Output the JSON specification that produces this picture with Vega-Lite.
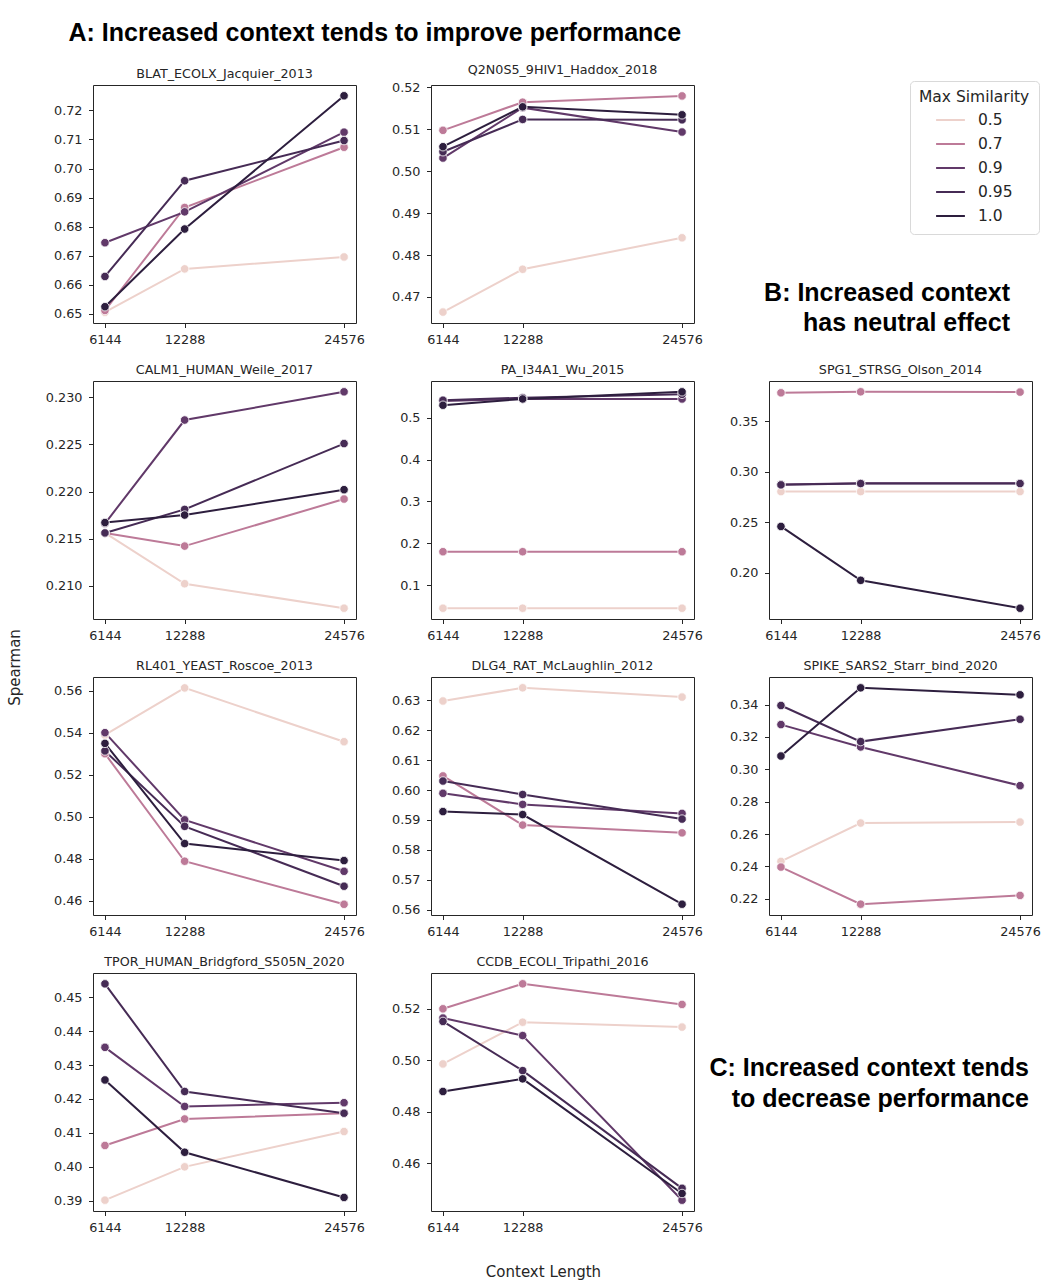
{
"$schema": "https://vega.github.io/schema/vega-lite/v6.json",
"padding": {"left": 6, "top": 20, "right": 5, "bottom": 5},
"title": {"text": "A: Increased context tends to improve performance", "anchor": "start", "dx": 62, "offset": 18, "font": "Liberation Sans", "fontSize": 25, "fontWeight": "bold", "color": "black"},
"datasets": {"d": [
{"panel":"BLAT","sim":"0.5","ctx":6144,"v":0.6506},{"panel":"BLAT","sim":"0.5","ctx":12288,"v":0.6655},{"panel":"BLAT","sim":"0.5","ctx":24576,"v":0.6696},
{"panel":"BLAT","sim":"0.7","ctx":6144,"v":0.6512},{"panel":"BLAT","sim":"0.7","ctx":12288,"v":0.6866},{"panel":"BLAT","sim":"0.7","ctx":24576,"v":0.7073},
{"panel":"BLAT","sim":"0.9","ctx":6144,"v":0.6745},{"panel":"BLAT","sim":"0.9","ctx":12288,"v":0.6851},{"panel":"BLAT","sim":"0.9","ctx":24576,"v":0.7125},
{"panel":"BLAT","sim":"0.95","ctx":6144,"v":0.6629},{"panel":"BLAT","sim":"0.95","ctx":12288,"v":0.6958},{"panel":"BLAT","sim":"0.95","ctx":24576,"v":0.7096},
{"panel":"BLAT","sim":"1.0","ctx":6144,"v":0.6525},{"panel":"BLAT","sim":"1.0","ctx":12288,"v":0.6792},{"panel":"BLAT","sim":"1.0","ctx":24576,"v":0.7250},
{"panel":"Q2N0S5","sim":"0.5","ctx":6144,"v":0.4664},{"panel":"Q2N0S5","sim":"0.5","ctx":12288,"v":0.4766},{"panel":"Q2N0S5","sim":"0.5","ctx":24576,"v":0.4841},
{"panel":"Q2N0S5","sim":"0.7","ctx":6144,"v":0.5097},{"panel":"Q2N0S5","sim":"0.7","ctx":12288,"v":0.5164},{"panel":"Q2N0S5","sim":"0.7","ctx":24576,"v":0.5179},
{"panel":"Q2N0S5","sim":"0.9","ctx":6144,"v":0.5031},{"panel":"Q2N0S5","sim":"0.9","ctx":12288,"v":0.5151},{"panel":"Q2N0S5","sim":"0.9","ctx":24576,"v":0.5093},
{"panel":"Q2N0S5","sim":"0.95","ctx":6144,"v":0.5046},{"panel":"Q2N0S5","sim":"0.95","ctx":12288,"v":0.5123},{"panel":"Q2N0S5","sim":"0.95","ctx":24576,"v":0.5122},
{"panel":"Q2N0S5","sim":"1.0","ctx":6144,"v":0.5058},{"panel":"Q2N0S5","sim":"1.0","ctx":12288,"v":0.5153},{"panel":"Q2N0S5","sim":"1.0","ctx":24576,"v":0.5134},
{"panel":"CALM1","sim":"0.5","ctx":6144,"v":0.2156},{"panel":"CALM1","sim":"0.5","ctx":12288,"v":0.2102},{"panel":"CALM1","sim":"0.5","ctx":24576,"v":0.2076},
{"panel":"CALM1","sim":"0.7","ctx":6144,"v":0.2156},{"panel":"CALM1","sim":"0.7","ctx":12288,"v":0.2142},{"panel":"CALM1","sim":"0.7","ctx":24576,"v":0.2192},
{"panel":"CALM1","sim":"0.9","ctx":6144,"v":0.2166},{"panel":"CALM1","sim":"0.9","ctx":12288,"v":0.2276},{"panel":"CALM1","sim":"0.9","ctx":24576,"v":0.2306},
{"panel":"CALM1","sim":"0.95","ctx":6144,"v":0.2156},{"panel":"CALM1","sim":"0.95","ctx":12288,"v":0.2181},{"panel":"CALM1","sim":"0.95","ctx":24576,"v":0.2251},
{"panel":"CALM1","sim":"1.0","ctx":6144,"v":0.2167},{"panel":"CALM1","sim":"1.0","ctx":12288,"v":0.2175},{"panel":"CALM1","sim":"1.0","ctx":24576,"v":0.2202},
{"panel":"PA","sim":"0.5","ctx":6144,"v":0.045},{"panel":"PA","sim":"0.5","ctx":12288,"v":0.045},{"panel":"PA","sim":"0.5","ctx":24576,"v":0.045},
{"panel":"PA","sim":"0.7","ctx":6144,"v":0.180},{"panel":"PA","sim":"0.7","ctx":12288,"v":0.180},{"panel":"PA","sim":"0.7","ctx":24576,"v":0.180},
{"panel":"PA","sim":"0.9","ctx":6144,"v":0.540},{"panel":"PA","sim":"0.9","ctx":12288,"v":0.545},{"panel":"PA","sim":"0.9","ctx":24576,"v":0.545},
{"panel":"PA","sim":"0.95","ctx":6144,"v":0.542},{"panel":"PA","sim":"0.95","ctx":12288,"v":0.548},{"panel":"PA","sim":"0.95","ctx":24576,"v":0.556},
{"panel":"PA","sim":"1.0","ctx":6144,"v":0.530},{"panel":"PA","sim":"1.0","ctx":12288,"v":0.545},{"panel":"PA","sim":"1.0","ctx":24576,"v":0.562},
{"panel":"SPG1","sim":"0.5","ctx":6144,"v":0.2803},{"panel":"SPG1","sim":"0.5","ctx":12288,"v":0.2803},{"panel":"SPG1","sim":"0.5","ctx":24576,"v":0.2803},
{"panel":"SPG1","sim":"0.7","ctx":6144,"v":0.3782},{"panel":"SPG1","sim":"0.7","ctx":12288,"v":0.3792},{"panel":"SPG1","sim":"0.7","ctx":24576,"v":0.3789},
{"panel":"SPG1","sim":"0.9","ctx":6144,"v":0.2873},{"panel":"SPG1","sim":"0.9","ctx":12288,"v":0.2886},{"panel":"SPG1","sim":"0.9","ctx":24576,"v":0.2886},
{"panel":"SPG1","sim":"0.95","ctx":6144,"v":0.2870},{"panel":"SPG1","sim":"0.95","ctx":12288,"v":0.2883},{"panel":"SPG1","sim":"0.95","ctx":24576,"v":0.2883},
{"panel":"SPG1","sim":"1.0","ctx":6144,"v":0.2458},{"panel":"SPG1","sim":"1.0","ctx":12288,"v":0.1924},{"panel":"SPG1","sim":"1.0","ctx":24576,"v":0.1648},
{"panel":"RL401","sim":"0.5","ctx":6144,"v":0.5390},{"panel":"RL401","sim":"0.5","ctx":12288,"v":0.5614},{"panel":"RL401","sim":"0.5","ctx":24576,"v":0.5358},
{"panel":"RL401","sim":"0.7","ctx":6144,"v":0.5301},{"panel":"RL401","sim":"0.7","ctx":12288,"v":0.4789},{"panel":"RL401","sim":"0.7","ctx":24576,"v":0.4584},
{"panel":"RL401","sim":"0.9","ctx":6144,"v":0.5401},{"panel":"RL401","sim":"0.9","ctx":12288,"v":0.4986},{"panel":"RL401","sim":"0.9","ctx":24576,"v":0.4741},
{"panel":"RL401","sim":"0.95","ctx":6144,"v":0.5314},{"panel":"RL401","sim":"0.95","ctx":12288,"v":0.4955},{"panel":"RL401","sim":"0.95","ctx":24576,"v":0.4670},
{"panel":"RL401","sim":"1.0","ctx":6144,"v":0.5350},{"panel":"RL401","sim":"1.0","ctx":12288,"v":0.4873},{"panel":"RL401","sim":"1.0","ctx":24576,"v":0.4792},
{"panel":"DLG4","sim":"0.5","ctx":6144,"v":0.6297},{"panel":"DLG4","sim":"0.5","ctx":12288,"v":0.6341},{"panel":"DLG4","sim":"0.5","ctx":24576,"v":0.6310},
{"panel":"DLG4","sim":"0.7","ctx":6144,"v":0.6047},{"panel":"DLG4","sim":"0.7","ctx":12288,"v":0.5883},{"panel":"DLG4","sim":"0.7","ctx":24576,"v":0.5857},
{"panel":"DLG4","sim":"0.9","ctx":6144,"v":0.5989},{"panel":"DLG4","sim":"0.9","ctx":12288,"v":0.5952},{"panel":"DLG4","sim":"0.9","ctx":24576,"v":0.5922},
{"panel":"DLG4","sim":"0.95","ctx":6144,"v":0.6030},{"panel":"DLG4","sim":"0.95","ctx":12288,"v":0.5985},{"panel":"DLG4","sim":"0.95","ctx":24576,"v":0.5903},
{"panel":"DLG4","sim":"1.0","ctx":6144,"v":0.5928},{"panel":"DLG4","sim":"1.0","ctx":12288,"v":0.5918},{"panel":"DLG4","sim":"1.0","ctx":24576,"v":0.5619},
{"panel":"SPIKE","sim":"0.5","ctx":6144,"v":0.2431},{"panel":"SPIKE","sim":"0.5","ctx":12288,"v":0.2668},{"panel":"SPIKE","sim":"0.5","ctx":24576,"v":0.2674},
{"panel":"SPIKE","sim":"0.7","ctx":6144,"v":0.2396},{"panel":"SPIKE","sim":"0.7","ctx":12288,"v":0.2167},{"panel":"SPIKE","sim":"0.7","ctx":24576,"v":0.2221},
{"panel":"SPIKE","sim":"0.9","ctx":6144,"v":0.3276},{"panel":"SPIKE","sim":"0.9","ctx":12288,"v":0.3138},{"panel":"SPIKE","sim":"0.9","ctx":24576,"v":0.2899},
{"panel":"SPIKE","sim":"0.95","ctx":6144,"v":0.3394},{"panel":"SPIKE","sim":"0.95","ctx":12288,"v":0.3171},{"panel":"SPIKE","sim":"0.95","ctx":24576,"v":0.3309},
{"panel":"SPIKE","sim":"1.0","ctx":6144,"v":0.3082},{"panel":"SPIKE","sim":"1.0","ctx":12288,"v":0.3503},{"panel":"SPIKE","sim":"1.0","ctx":24576,"v":0.3460},
{"panel":"TPOR","sim":"0.5","ctx":6144,"v":0.3902},{"panel":"TPOR","sim":"0.5","ctx":12288,"v":0.4000},{"panel":"TPOR","sim":"0.5","ctx":24576,"v":0.4104},
{"panel":"TPOR","sim":"0.7","ctx":6144,"v":0.4063},{"panel":"TPOR","sim":"0.7","ctx":12288,"v":0.4141},{"panel":"TPOR","sim":"0.7","ctx":24576,"v":0.4158},
{"panel":"TPOR","sim":"0.9","ctx":6144,"v":0.4352},{"panel":"TPOR","sim":"0.9","ctx":12288,"v":0.4178},{"panel":"TPOR","sim":"0.9","ctx":24576,"v":0.4189},
{"panel":"TPOR","sim":"0.95","ctx":6144,"v":0.4539},{"panel":"TPOR","sim":"0.95","ctx":12288,"v":0.4222},{"panel":"TPOR","sim":"0.95","ctx":24576,"v":0.4158},
{"panel":"TPOR","sim":"1.0","ctx":6144,"v":0.4256},{"panel":"TPOR","sim":"1.0","ctx":12288,"v":0.4043},{"panel":"TPOR","sim":"1.0","ctx":24576,"v":0.3910},
{"panel":"CCDB","sim":"0.5","ctx":6144,"v":0.4986},{"panel":"CCDB","sim":"0.5","ctx":12288,"v":0.5148},{"panel":"CCDB","sim":"0.5","ctx":24576,"v":0.5129},
{"panel":"CCDB","sim":"0.7","ctx":6144,"v":0.5200},{"panel":"CCDB","sim":"0.7","ctx":12288,"v":0.5297},{"panel":"CCDB","sim":"0.7","ctx":24576,"v":0.5217},
{"panel":"CCDB","sim":"0.9","ctx":6144,"v":0.5164},{"panel":"CCDB","sim":"0.9","ctx":12288,"v":0.5096},{"panel":"CCDB","sim":"0.9","ctx":24576,"v":0.4457},
{"panel":"CCDB","sim":"0.95","ctx":6144,"v":0.5151},{"panel":"CCDB","sim":"0.95","ctx":12288,"v":0.4960},{"panel":"CCDB","sim":"0.95","ctx":24576,"v":0.4503},
{"panel":"CCDB","sim":"1.0","ctx":6144,"v":0.4879},{"panel":"CCDB","sim":"1.0","ctx":12288,"v":0.4928},{"panel":"CCDB","sim":"1.0","ctx":24576,"v":0.4483}
]},
"data": {"name": "d"},
"columns": 3,
"bounds": "flush",
"spacing": {"row": 58, "column": 75},
"resolve": {"scale": {"x": "independent", "y": "independent", "color": "shared"}},
"concat": [
{"title": "BLAT_ECOLX_Jacquier_2013", "width": 263, "height": 238,
 "transform": [{"filter": {"field": "panel", "equal": "BLAT"}}],
 "mark": {"type": "line", "strokeWidth": 2, "point": {"filled": true, "size": 72, "stroke": "white", "strokeWidth": 0.8}},
 "encoding": {
  "x": {"field": "ctx", "type": "quantitative", "scale": {"domain": [5222.4, 25497.6], "nice": false, "zero": false}, "axis": {"values": [6144, 12288, 24576], "format": "d", "title": null}},
  "y": {"field": "v", "type": "quantitative", "scale": {"domain": [0.6469, 0.7287], "nice": false, "zero": false}, "axis": {"values": [0.65, 0.66, 0.67, 0.68, 0.69, 0.70, 0.71, 0.72], "format": ".2f", "title": null}},
  "color": {"field": "sim", "type": "nominal", "title": "Max Similarity", "scale": {"domain": ["0.5", "0.7", "0.9", "0.95", "1.0"], "range": ["#edd1cb", "#bd7a98", "#613969", "#462b55", "#2d1e3e"]}}
 }},
{"title": "Q2N0S5_9HIV1_Haddox_2018", "width": 263, "height": 238,
 "transform": [{"filter": {"field": "panel", "equal": "Q2N0S5"}}],
 "mark": {"type": "line", "strokeWidth": 2, "point": {"filled": true, "size": 72, "stroke": "white", "strokeWidth": 0.8}},
 "encoding": {
  "x": {"field": "ctx", "type": "quantitative", "scale": {"domain": [5222.4, 25497.6], "nice": false, "zero": false}, "axis": {"values": [6144, 12288, 24576], "format": "d", "title": null}},
  "y": {"field": "v", "type": "quantitative", "scale": {"domain": [0.4638, 0.5205], "nice": false, "zero": false}, "axis": {"values": [0.47, 0.48, 0.49, 0.50, 0.51, 0.52], "format": ".2f", "title": null}},
  "color": {"field": "sim", "type": "nominal", "title": "Max Similarity", "scale": {"domain": ["0.5", "0.7", "0.9", "0.95", "1.0"], "range": ["#edd1cb", "#bd7a98", "#613969", "#462b55", "#2d1e3e"]}}
 }},
{"width": 263, "height": 238, "data": {"values": [{"t": ""}]}, "view": {"stroke": null},
 "title": {"text": ["B: Increased context", "has neutral effect"], "orient": "bottom", "anchor": "end", "align": "right", "dx": -22, "offset": -42, "font": "Liberation Sans", "fontSize": 25, "fontWeight": "bold", "color": "black", "lineHeight": 30},
 "mark": {"type": "text"}, "encoding": {"text": {"field": "t"}}},
{"title": "CALM1_HUMAN_Weile_2017", "width": 263, "height": 238,
 "transform": [{"filter": {"field": "panel", "equal": "CALM1"}}],
 "mark": {"type": "line", "strokeWidth": 2, "point": {"filled": true, "size": 72, "stroke": "white", "strokeWidth": 0.8}},
 "encoding": {
  "x": {"field": "ctx", "type": "quantitative", "scale": {"domain": [5222.4, 25497.6], "nice": false, "zero": false}, "axis": {"values": [6144, 12288, 24576], "format": "d", "title": null}},
  "y": {"field": "v", "type": "quantitative", "scale": {"domain": [0.20645, 0.23175], "nice": false, "zero": false}, "axis": {"values": [0.210, 0.215, 0.220, 0.225, 0.230], "format": ".3f", "title": "Spearman", "titleX": -71, "titleY": 286}},
  "color": {"field": "sim", "type": "nominal", "title": "Max Similarity", "scale": {"domain": ["0.5", "0.7", "0.9", "0.95", "1.0"], "range": ["#edd1cb", "#bd7a98", "#613969", "#462b55", "#2d1e3e"]}}
 }},
{"title": "PA_I34A1_Wu_2015", "width": 263, "height": 238,
 "transform": [{"filter": {"field": "panel", "equal": "PA"}}],
 "mark": {"type": "line", "strokeWidth": 2, "point": {"filled": true, "size": 72, "stroke": "white", "strokeWidth": 0.8}},
 "encoding": {
  "x": {"field": "ctx", "type": "quantitative", "scale": {"domain": [5222.4, 25497.6], "nice": false, "zero": false}, "axis": {"values": [6144, 12288, 24576], "format": "d", "title": null}},
  "y": {"field": "v", "type": "quantitative", "scale": {"domain": [0.0192, 0.5879], "nice": false, "zero": false}, "axis": {"values": [0.1, 0.2, 0.3, 0.4, 0.5], "format": ".1f", "title": null}},
  "color": {"field": "sim", "type": "nominal", "title": "Max Similarity", "scale": {"domain": ["0.5", "0.7", "0.9", "0.95", "1.0"], "range": ["#edd1cb", "#bd7a98", "#613969", "#462b55", "#2d1e3e"]}}
 }},
{"title": "SPG1_STRSG_Olson_2014", "width": 263, "height": 238,
 "transform": [{"filter": {"field": "panel", "equal": "SPG1"}}],
 "mark": {"type": "line", "strokeWidth": 2, "point": {"filled": true, "size": 72, "stroke": "white", "strokeWidth": 0.8}},
 "encoding": {
  "x": {"field": "ctx", "type": "quantitative", "scale": {"domain": [5222.4, 25497.6], "nice": false, "zero": false}, "axis": {"values": [6144, 12288, 24576], "format": "d", "title": null}},
  "y": {"field": "v", "type": "quantitative", "scale": {"domain": [0.1541, 0.3899], "nice": false, "zero": false}, "axis": {"values": [0.20, 0.25, 0.30, 0.35], "format": ".2f", "title": null}},
  "color": {"field": "sim", "type": "nominal", "title": "Max Similarity", "scale": {"domain": ["0.5", "0.7", "0.9", "0.95", "1.0"], "range": ["#edd1cb", "#bd7a98", "#613969", "#462b55", "#2d1e3e"]}}
 }},
{"title": "RL401_YEAST_Roscoe_2013", "width": 263, "height": 238,
 "transform": [{"filter": {"field": "panel", "equal": "RL401"}}],
 "mark": {"type": "line", "strokeWidth": 2, "point": {"filled": true, "size": 72, "stroke": "white", "strokeWidth": 0.8}},
 "encoding": {
  "x": {"field": "ctx", "type": "quantitative", "scale": {"domain": [5222.4, 25497.6], "nice": false, "zero": false}, "axis": {"values": [6144, 12288, 24576], "format": "d", "title": null}},
  "y": {"field": "v", "type": "quantitative", "scale": {"domain": [0.4533, 0.5666], "nice": false, "zero": false}, "axis": {"values": [0.46, 0.48, 0.50, 0.52, 0.54, 0.56], "format": ".2f", "title": null}},
  "color": {"field": "sim", "type": "nominal", "title": "Max Similarity", "scale": {"domain": ["0.5", "0.7", "0.9", "0.95", "1.0"], "range": ["#edd1cb", "#bd7a98", "#613969", "#462b55", "#2d1e3e"]}}
 }},
{"title": "DLG4_RAT_McLaughlin_2012", "width": 263, "height": 238,
 "transform": [{"filter": {"field": "panel", "equal": "DLG4"}}],
 "mark": {"type": "line", "strokeWidth": 2, "point": {"filled": true, "size": 72, "stroke": "white", "strokeWidth": 0.8}},
 "encoding": {
  "x": {"field": "ctx", "type": "quantitative", "scale": {"domain": [5222.4, 25497.6], "nice": false, "zero": false}, "axis": {"values": [6144, 12288, 24576], "format": "d", "title": null}},
  "y": {"field": "v", "type": "quantitative", "scale": {"domain": [0.5583, 0.6377], "nice": false, "zero": false}, "axis": {"values": [0.56, 0.57, 0.58, 0.59, 0.60, 0.61, 0.62, 0.63], "format": ".2f", "title": null}},
  "color": {"field": "sim", "type": "nominal", "title": "Max Similarity", "scale": {"domain": ["0.5", "0.7", "0.9", "0.95", "1.0"], "range": ["#edd1cb", "#bd7a98", "#613969", "#462b55", "#2d1e3e"]}}
 }},
{"title": "SPIKE_SARS2_Starr_bind_2020", "width": 263, "height": 238,
 "transform": [{"filter": {"field": "panel", "equal": "SPIKE"}}],
 "mark": {"type": "line", "strokeWidth": 2, "point": {"filled": true, "size": 72, "stroke": "white", "strokeWidth": 0.8}},
 "encoding": {
  "x": {"field": "ctx", "type": "quantitative", "scale": {"domain": [5222.4, 25497.6], "nice": false, "zero": false}, "axis": {"values": [6144, 12288, 24576], "format": "d", "title": null}},
  "y": {"field": "v", "type": "quantitative", "scale": {"domain": [0.2100, 0.3570], "nice": false, "zero": false}, "axis": {"values": [0.22, 0.24, 0.26, 0.28, 0.30, 0.32, 0.34], "format": ".2f", "title": null}},
  "color": {"field": "sim", "type": "nominal", "title": "Max Similarity", "scale": {"domain": ["0.5", "0.7", "0.9", "0.95", "1.0"], "range": ["#edd1cb", "#bd7a98", "#613969", "#462b55", "#2d1e3e"]}}
 }},
{"title": "TPOR_HUMAN_Bridgford_S505N_2020", "width": 263, "height": 238,
 "transform": [{"filter": {"field": "panel", "equal": "TPOR"}}],
 "mark": {"type": "line", "strokeWidth": 2, "point": {"filled": true, "size": 72, "stroke": "white", "strokeWidth": 0.8}},
 "encoding": {
  "x": {"field": "ctx", "type": "quantitative", "scale": {"domain": [5222.4, 25497.6], "nice": false, "zero": false}, "axis": {"values": [6144, 12288, 24576], "format": "d", "title": null}},
  "y": {"field": "v", "type": "quantitative", "scale": {"domain": [0.3870, 0.4571], "nice": false, "zero": false}, "axis": {"values": [0.39, 0.40, 0.41, 0.42, 0.43, 0.44, 0.45], "format": ".2f", "title": null}},
  "color": {"field": "sim", "type": "nominal", "title": "Max Similarity", "scale": {"domain": ["0.5", "0.7", "0.9", "0.95", "1.0"], "range": ["#edd1cb", "#bd7a98", "#613969", "#462b55", "#2d1e3e"]}}
 }},
{"title": "CCDB_ECOLI_Tripathi_2016", "width": 263, "height": 238,
 "transform": [{"filter": {"field": "panel", "equal": "CCDB"}}],
 "mark": {"type": "line", "strokeWidth": 2, "point": {"filled": true, "size": 72, "stroke": "white", "strokeWidth": 0.8}},
 "encoding": {
  "x": {"field": "ctx", "type": "quantitative", "scale": {"domain": [5222.4, 25497.6], "nice": false, "zero": false}, "axis": {"values": [6144, 12288, 24576], "format": "d", "title": "Context Length", "titleX": 112, "titleY": 53}},
  "y": {"field": "v", "type": "quantitative", "scale": {"domain": [0.4415, 0.5339], "nice": false, "zero": false}, "axis": {"values": [0.46, 0.48, 0.50, 0.52], "format": ".2f", "title": null}},
  "color": {"field": "sim", "type": "nominal", "title": "Max Similarity", "scale": {"domain": ["0.5", "0.7", "0.9", "0.95", "1.0"], "range": ["#edd1cb", "#bd7a98", "#613969", "#462b55", "#2d1e3e"]}}
 }},
{"width": 263, "height": 238, "data": {"values": [{"t": ""}]}, "view": {"stroke": null},
 "title": {"text": ["C: Increased context tends", "to decrease performance"], "orient": "bottom", "anchor": "end", "align": "right", "dx": -3, "offset": -155, "font": "Liberation Sans", "fontSize": 25, "fontWeight": "bold", "color": "black", "lineHeight": 31},
 "mark": {"type": "text"}, "encoding": {"text": {"field": "t"}}}
],
"config": {
 "font": "DejaVu Sans",
 "view": {"stroke": "#262626", "strokeWidth": 1},
 "axis": {"grid": false, "domain": false, "ticks": true, "tickColor": "#262626", "tickSize": 4.5, "tickWidth": 1, "labelColor": "#262626", "labelFontSize": 12.8, "labelFont": "DejaVu Sans", "labelPadding": 6.5, "labelFlush": false, "titleFont": "DejaVu Sans", "titleFontSize": 15, "titleFontWeight": "normal", "titleColor": "#262626"},
 "axisX": {"labelAngle": 0, "labelPadding": 5.5},
 "title": {"font": "DejaVu Sans", "fontSize": 12.7, "fontWeight": "normal", "color": "#262626", "offset": 4},
 "legend": {"orient": "none", "legendX": 817, "legendY": -4, "symbolType": "stroke", "symbolStrokeWidth": 2, "symbolSize": 830, "symbolOffset": 16, "titleFontSize": 15.5, "titleFontWeight": "normal", "titleColor": "#262626", "titleFont": "DejaVu Sans", "titlePadding": -1, "labelFontSize": 15.5, "labelColor": "#262626", "labelFont": "DejaVu Sans", "labelOffset": 12, "rowPadding": 0, "strokeColor": "#d9d9d9", "fillColor": "white", "cornerRadius": 4, "padding": 9}
}
}
